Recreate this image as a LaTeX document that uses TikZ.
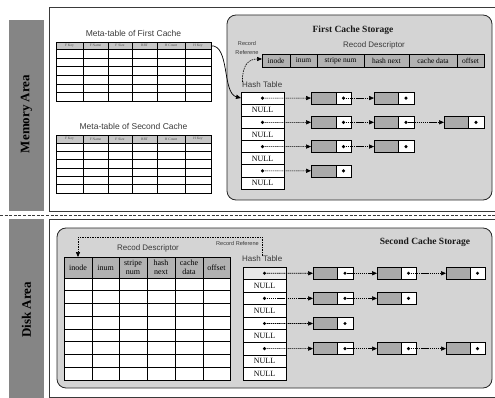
\documentclass[tikz,border=0pt]{standalone}
\usepackage{fontspec}
\setmainfont{Liberation Serif}
\newfontfamily\lblfont{Liberation Sans}
\usetikzlibrary{arrows.meta}

\definecolor{bargray}{HTML}{858585}
\definecolor{storegray}{HTML}{D4D4D4}
\definecolor{headgray}{HTML}{B2B2B2}
\definecolor{metagray}{HTML}{C6C6C6}
\definecolor{nodegray}{HTML}{AAAAAA}
\definecolor{lightcell}{HTML}{E8E8E8}
\definecolor{labelgray}{HTML}{3A3A3A}
\definecolor{framegray}{HTML}{3A3A3A}

% a table cell: name, x1, y1, x2, y2, style, text
\newcommand\mkcell[7]{%
  \node[cellbox,#6,minimum width={(#4)-(#2)},minimum height={(#5)-(#3)}] (#1) at (#2,#3) {#7};}
% a list element: name, x of grey part, x of pointer part, right x, centre y
\newcommand\mkelem[5]{%
  \mkcell{#1-g}{#2}{#5-6}{#3}{#5+6}{fill=nodegray}{}
  \mkcell{#1-w}{#3}{#5-6}{#4}{#5+6}{fill=white}{}
  \fill (#1-w.center) circle (1.7);}

\begin{document}
\begin{tikzpicture}[x=1pt,y=-1pt,
  cellbox/.style={draw=black,line width=0.6pt,inner sep=0pt,outer sep=0pt,anchor=north west,align=center},
  frameline/.style={draw=framegray,line width=0.9pt},
  areabar/.style={fill=bargray},
  arealabel/.style={rotate=90,font=\fontsize{13}{15}\selectfont\bfseries,text=black},
  storage/.style={draw=black!85,line width=0.8pt,fill=storegray,rounded corners=9pt},
  storetitle/.style={font=\fontsize{9.5}{11}\selectfont\bfseries,text=black!90},
  lbl/.style={font=\lblfont\fontsize{8}{9}\selectfont,text=labelgray,inner sep=0pt},
  smalllbl/.style={font=\lblfont\fontsize{5.6}{9.5}\selectfont,text=labelgray,inner sep=0pt,align=center},
  metahead/.style={fill=metagray,font=\fontsize{3.6}{4}\selectfont,text=black!70},
  deschead/.style={fill=headgray,font=\fontsize{7.5}{8}\selectfont},
  deschead2/.style={fill=headgray,font=\fontsize{8}{8.6}\selectfont},
  nullcell/.style={fill=white,font=\fontsize{8}{9}\selectfont},
  link/.style={line width=0.6pt,dash pattern=on 1.4pt off 0.7pt,-{Triangle[length=5pt,width=4.2pt]}},
  refarrow/.style={line width=0.6pt,dash pattern=on 1.6pt off 0.9pt,-{Triangle[length=5pt,width=4.2pt]}},
  metaarrow/.style={line width=0.7pt,-{Triangle[length=5pt,width=4.2pt]}}]

\useasboundingbox (0,0) rectangle (495,398);

% ---------- area frames ----------
\fill[areabar] (9,20) rectangle (44,211);
\fill[areabar] (9,219) rectangle (44,398);
\node[arealabel] (memlbl) at (26.5,114) {Memory Area};
\node[arealabel] (disklbl) at (26.5,310) {Disk Area};

\draw[frameline] (495,7) -- (49,7) -- (49,211) -- (495,211);
\draw[frameline] (495,219) -- (49,219) -- (49,397) -- (495,397);
\draw[framegray,line width=0.9pt,dash pattern=on 3pt off 1.6pt] (0,215) -- (495,215);

% ---------- storage regions ----------
\path[storage] (227,15) rectangle (492,200);
\path[storage] (57,228) rectangle (492,388);
\node[storetitle] (fst) at (353,30) {First Cache Storage};
\node[storetitle] (sst) at (425,242) {Second Cache Storage};

% ---------- meta-tables ----------
\node[lbl,font=\lblfont\fontsize{8.5}{10}\selectfont] (mt1) at (133.5,33) {Meta-table of First Cache};
\node[lbl,font=\lblfont\fontsize{8.5}{10}\selectfont] (mt2) at (133.5,126) {Meta-table of Second Cache};
\foreach \xa/\xb/\lab [count=\i] in {56/83/F Key,83/108/F Name,108/132/F Size,132/157/RRT,157/185/H Count,185/211/H Key}{
  \mkcell{ma-h\i}{\xa}{42}{\xb}{49.5}{metahead}{\lab}
  \mkcell{mb-h\i}{\xa}{135}{\xb}{143}{metahead}{\lab}
  \foreach \r in {1,...,6}{
    \pgfmathsetmacro\ya{49.5+(\r-1)*8.583}
    \pgfmathsetmacro\yb{49.5+\r*8.583}
    \mkcell{ma-\i-\r}{\xa}{\ya}{\xb}{\yb}{fill=white}{}
    \pgfmathsetmacro\ya{143+(\r-1)*8.333}
    \pgfmathsetmacro\yb{143+\r*8.333}
    \mkcell{mb-\i-\r}{\xa}{\ya}{\xb}{\yb}{fill=white}{}
  }
}

% ---------- first cache: record descriptor ----------
\node[lbl] (mrd) at (374,45) {Recod Descriptor};
\foreach \xa/\xb/\lab [count=\i] in {262/290/inode,290/317/inum,317/364/stripe num,364/409/hash next,409/457/cache data,457/484/offset}{
  \mkcell{mr-\i}{\xa}{54}{\xb}{67}{deschead}{\lab}
}
\node[smalllbl] (mrr) at (247,48) {Record\\Referene};

% ---------- first cache: hash table ----------
\node[lbl,anchor=west] (mht) at (242,85) {Hash Table};
\foreach \r in {1,...,8}{
  \pgfmathsetmacro\ya{92+(\r-1)*12.125}
  \pgfmathsetmacro\yb{92+\r*12.125}
  \ifodd\r
    \mkcell{mh\r}{241}{\ya}{284}{\yb}{fill=white}{}
    \fill (mh\r.center) circle (1.7);
  \else
    \mkcell{mh\r}{241}{\ya}{284}{\yb}{nullcell}{NULL}
  \fi
}

% first cache: chained entries
\mkelem{ma}{311}{336}{351}{98.06}
\mkelem{mb}{374}{398}{414}{98.06}
\mkelem{mc}{311}{336}{351}{122.31}
\mkelem{md}{374}{398}{414}{122.31}
\mkelem{me}{444}{468}{484}{122.31}
\mkelem{mf}{311}{336}{351}{146.56}
\mkelem{mg}{374}{398}{414}{146.56}
\mkelem{mi}{311}{336}{351}{170.81}

\draw[link] (mh1.center) -- (ma-g.west);
\draw[link] (ma-w.center) -- (mb-g.west);
\draw[link] (mh3.center) -- (mc-g.west);
\draw[link] (mc-w.center) -- (md-g.west);
\draw[link] (md-w.center) -- (me-g.west);
\draw[link] (mh5.center) -- (mf-g.west);
\draw[link] (mf-w.center) -- (mg-g.west);
\draw[link] (mh7.center) -- (mi-g.west);

% references in memory
\draw[metaarrow] (ma-h6.east) .. controls (230,45) and (222,93) .. (mh1.west);
\draw[refarrow] ([xshift=0.5pt]mht.north west) .. controls (242,66) and (248,59) .. ([yshift=1.5pt]mr-1.west);

% ---------- second cache: record descriptor table ----------
\node[lbl] (drd) at (148,248) {Recod Descriptor};
\foreach \xa/\xb/\lab [count=\i] in {64/92/inode,92/119/inum,119/147/stripe\\num,147/175/hash\\next,175/203/cache\\data,203/230/offset}{
  \mkcell{dr-\i}{\xa}{257}{\xb}{278}{deschead2}{\lab}
  \foreach \r in {1,...,8}{
    \pgfmathsetmacro\ya{278+(\r-1)*12.75}
    \pgfmathsetmacro\yb{278+\r*12.75}
    \mkcell{dr-\i-\r}{\xa}{\ya}{\xb}{\yb}{fill=white}{}
  }
}

% ---------- second cache: hash table ----------
\node[lbl,anchor=west] (dht) at (242,259) {Hash Table};
\foreach \r/\kind in {1/p,2/n,3/p,4/n,5/p,6/n,7/p,8/n,9/n}{
  \pgfmathsetmacro\ya{267+(\r-1)*12.556}
  \pgfmathsetmacro\yb{267+\r*12.556}
  \if p\kind
    \ifnum\r=1
      \mkcell{dh\r}{243}{\ya}{286}{\yb}{fill=lightcell}{}
    \else
      \mkcell{dh\r}{243}{\ya}{286}{\yb}{fill=white}{}
    \fi
    \fill (dh\r.center) circle (1.7);
  \else
    \mkcell{dh\r}{243}{\ya}{286}{\yb}{nullcell}{NULL}
  \fi
}

% second cache: chained entries
\mkelem{da}{313}{337}{353}{273.28}
\mkelem{db}{377}{401}{416}{273.28}
\mkelem{dc}{446}{470}{485}{273.28}
\mkelem{dd}{313}{337}{353}{298.39}
\mkelem{de}{377}{401}{416}{298.39}
\mkelem{df}{313}{337}{353}{323.50}
\mkelem{dg}{313}{337}{353}{348.61}
\mkelem{di}{377}{401}{416}{348.61}
\mkelem{dj}{446}{470}{485}{348.61}

\draw[link] (dh1.center) -- (da-g.west);
\draw[link] (da-w.center) -- (db-g.west);
\draw[link] (db-w.center) -- (dc-g.west);
\draw[link] (dh3.center) -- (dd-g.west);
\draw[link] (dd-w.center) -- (de-g.west);
\draw[link] (dh5.center) -- (df-g.west);
\draw[link] (dh7.center) -- (dg-g.west);
\draw[link] (dg-w.center) -- (di-g.west);
\draw[link] (di-w.center) -- (dj-g.west);

% record reference on disk
\draw[refarrow] (dht.north) -- ++(0,-19) -| (dr-1.north);
\node[smalllbl,anchor=east] (drr) at (259,243) {Record Referene};

\end{tikzpicture}
\end{document}
